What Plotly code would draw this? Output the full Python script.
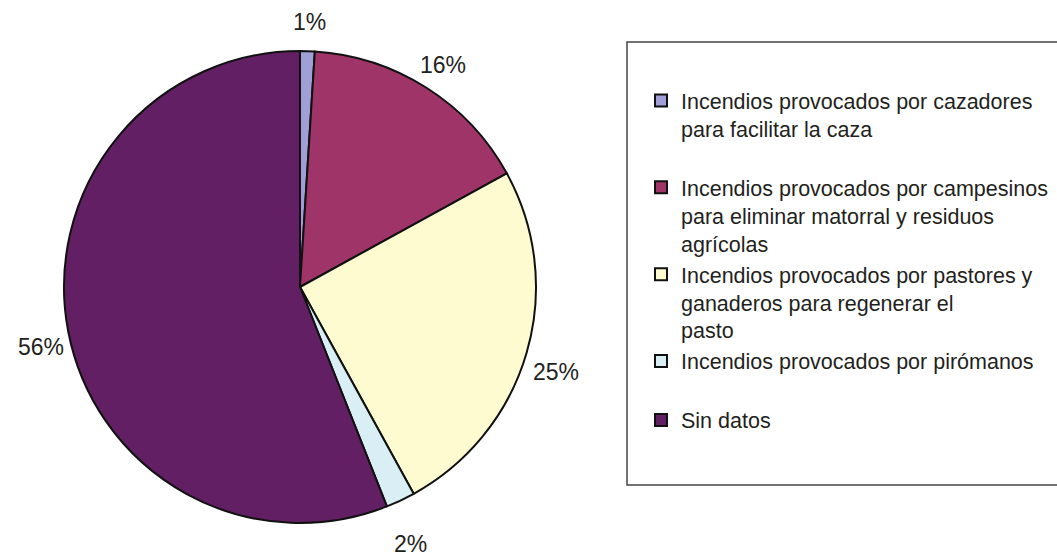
import math
import plotly.graph_objects as go

labels = [
    "Incendios provocados por cazadores<br>para facilitar la caza<br> ",
    "Incendios provocados por campesinos<br>para eliminar matorral y residuos<br>agrícolas",
    "Incendios provocados por pastores y<br>ganaderos para regenerar el<br>pasto",
    "Incendios provocados por pirómanos<br> ",
    "Sin datos",
]
values = [1, 16, 25, 2, 56]
colors = ["#A09FD6", "#9E3468", "#FEFBD1", "#DAEEF5", "#621F63"]

W, H = 1057, 558


def px(x):
    return x / W


def py(y):
    return 1 - y / H


cx, cy, r = 300, 287, 236
# label ring (centre of labels sits slightly below the pie centre)
lcx, lcy = 301, 296
gap_x, gap_y = 241, 261
LBL_SIZE = 23

fig = go.Figure(
    go.Pie(
        labels=labels,
        values=values,
        sort=False,
        direction="clockwise",
        rotation=0,
        marker=dict(colors=colors, line=dict(color="#111111", width=2)),
        textinfo="none",
        domain=dict(x=[px(cx - r), px(cx + r)], y=[py(cy + r), py(cy - r)]),
        hoverinfo="label+percent",
    )
)

total = sum(values)
annotations = []
cum = 0
for v in values:
    mid = (cum + v / 2) / total * 2 * math.pi
    cum += v
    txt = f"{round(v / total * 100)}%"
    half_w = 0.35 * LBL_SIZE * len(txt)
    half_h = 0.57 * LBL_SIZE
    s, c = math.sin(mid), math.cos(mid)
    lx = lcx + (gap_x + half_w) * s
    ly = lcy - (gap_y + half_h) * c
    annotations.append(
        dict(
            x=px(lx),
            y=py(ly),
            xref="paper",
            yref="paper",
            text=txt,
            showarrow=False,
            xanchor="center",
            yanchor="middle",
            font=dict(size=LBL_SIZE, color="#231f20", family="Liberation Sans, Arial"),
        )
    )

fig.update_layout(
    width=W,
    height=H,
    margin=dict(l=0, r=0, t=0, b=0),
    paper_bgcolor="white",
    plot_bgcolor="white",
    font=dict(family="Liberation Sans, Arial", color="#231f20"),
    showlegend=True,
    legend=dict(
        x=px(641),
        y=py(80),
        xanchor="left",
        yanchor="top",
        valign="top",
        font=dict(size=21.5, color="#231f20", family="Liberation Sans, Arial"),
        bgcolor="rgba(0,0,0,0)",
        borderwidth=0,
        traceorder="normal",
    ),
    annotations=annotations,
    shapes=[
        dict(
            type="rect",
            xref="paper",
            yref="paper",
            x0=px(627),
            x1=px(1075),
            y0=py(485),
            y1=py(42),
            line=dict(color="#444444", width=1.5),
            fillcolor="rgba(0,0,0,0)",
            layer="below",
        )
    ],
)

fig.write_html(
    "out.html",
    config={"displayModeBar": False},
    post_script="document.body.style.margin='0';document.body.style.overflow='hidden';",
)
